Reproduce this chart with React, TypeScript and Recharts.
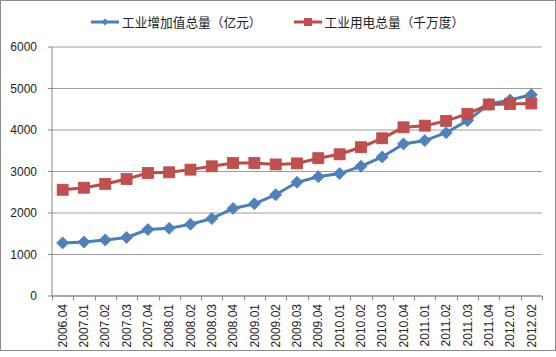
import React from 'react';
import { LineChart, Line, XAxis, YAxis, CartesianGrid } from 'recharts';

const categories = [
  '2006.04', '2007.01', '2007.02', '2007.03', '2007.04', '2008.01', '2008.02', '2008.03',
  '2008.04', '2009.01', '2009.02', '2009.03', '2009.04', '2010.01', '2010.02', '2010.03',
  '2010.04', '2011.01', '2011.02', '2011.03', '2011.04', '2012.01', '2012.02',
];
const addedValue = [
  1280, 1300, 1350, 1410, 1600, 1630, 1730, 1865, 2110, 2220, 2440, 2740, 2875, 2950,
  3125, 3350, 3665, 3745, 3935, 4225, 4620, 4725, 4850,
];
const electricity = [
  2560, 2610, 2700, 2820, 2965, 2980, 3045, 3125, 3205, 3205, 3170, 3195, 3320, 3415,
  3585, 3800, 4065, 4105, 4220, 4390, 4615, 4625, 4640,
];
const yTicks = [0, 1000, 2000, 3000, 4000, 5000, 6000];
const seriesNames = ['工业增加值总量（亿元）', '工业用电总量（千万度）'];

const data = categories.map((c, i) => ({ name: c, added: addedValue[i], power: electricity[i] }));

const W = 556;
const H = 357;
const LEFT = 52;
const RIGHT = 14;
const BW = (W - LEFT - RIGHT) / categories.length;
const FONT = '"Liberation Sans", Arial, "Noto Sans CJK SC", sans-serif';
const BLUE = '#4A7EBB';
const BLUE_FILL = '#4F81BD';
const RED = '#BE4B48';
const RED_FILL = '#C0504D';
const AXIS = '#868686';

const Diamond = ({ cx, cy }: any) => {
  const h = 6;
  return (
    <path d={`M${cx},${cy - h}L${cx + h},${cy}L${cx},${cy + h}L${cx - h},${cy}Z`} fill={BLUE_FILL} stroke={BLUE} strokeWidth={0.8} />
  );
};

const Square = ({ cx, cy }: any) => {
  const s = 11;
  return <rect x={cx - s / 2} y={cy - s / 2} width={s} height={s} fill={RED_FILL} stroke={RED} strokeWidth={0.8} />;
};

// category ticks sit between the points, like the spreadsheet original
const XTick = (props: any) => {
  const { x, y, payload, index } = props;
  const bx = Number(x);
  const by = Number(y);
  const left = Math.round(bx - BW / 2) + 0.5;
  const right = Math.round(bx + BW / 2) + 0.5;
  return (
    <g>
      <path d={`M${left},${by}V${by + 4.5}`} stroke={AXIS} strokeWidth={1} fill="none" />
      {index === categories.length - 1 && (
        <path d={`M${right},${by}V${by + 4.5}`} stroke={AXIS} strokeWidth={1} fill="none" />
      )}
      <text
        x={bx}
        y={by + 8}
        dy="0.35em"
        transform={`rotate(-90 ${bx} ${by + 8})`}
        textAnchor="end"
        fontSize={12}
        fontFamily={FONT}
        fill="#222"
      >
        {payload.value}
      </text>
    </g>
  );
};

const LegendItem = ({ color, label, marker }: any) => (
  <div style={{ display: 'flex', alignItems: 'center' }}>
    <svg width={28} height={12} style={{ marginRight: 3 }}>
      <line x1={0} y1={6} x2={28} y2={6} stroke={color} strokeWidth={3} />
      {marker === 'diamond' ? (
        <path d="M14,2.5L17.5,6L14,9.5L10.5,6Z" fill={BLUE_FILL} />
      ) : (
        <rect x={10} y={2} width={8} height={8} fill={RED_FILL} />
      )}
    </svg>
    <span style={{ fontSize: 12.7, color: '#222', fontFamily: '"Noto Sans CJK SC", sans-serif', whiteSpace: 'nowrap' }}>{label}</span>
  </div>
);

export default function App() {
  return (
    <div style={{ position: 'fixed', left: 0, top: 0, width: W, height: H, background: '#fff' }}>
      <div
        style={{
          position: 'absolute', left: 0, top: 0, width: 556, height: 351,
          border: '1.5px solid #8c8c8c',
          boxSizing: 'border-box',
        }}
      />
      <div style={{ position: 'absolute', left: 91, top: 12, display: 'flex', gap: 32 }}>
        <LegendItem color={BLUE} label={seriesNames[0]} marker="diamond" />
        <LegendItem color={RED} label={seriesNames[1]} marker="square" />
      </div>
      <div style={{ position: 'absolute', left: 0, top: 0 }}>
        <LineChart width={W} height={H} data={data} margin={{ top: 47, right: RIGHT, left: 0, bottom: 0 }}>
          <CartesianGrid vertical={false} stroke={AXIS} strokeOpacity={0.8} />
          <XAxis
            dataKey="name"
            interval={0}
            height={61}
            stroke={AXIS}
            tickLine={false}
            tickSize={0}
            tickMargin={0}
            padding={{ left: BW / 2, right: BW / 2 }}
            tick={<XTick />}
          />
          <YAxis
            domain={[0, 6000]}
            ticks={yTicks}
            width={LEFT}
            stroke={AXIS}
            tickSize={4}
            tickMargin={11}
            tick={{ fontSize: 12, fill: '#222', fontFamily: FONT }}
          />
          <Line
            dataKey="added"
            name={seriesNames[0]}
            stroke={BLUE}
            strokeWidth={3}
            dot={<Diamond />}
            activeDot={false}
            isAnimationActive={false}
          />
          <Line
            dataKey="power"
            name={seriesNames[1]}
            stroke={RED}
            strokeWidth={3}
            dot={<Square />}
            activeDot={false}
            isAnimationActive={false}
          />
        </LineChart>
      </div>
    </div>
  );
}
